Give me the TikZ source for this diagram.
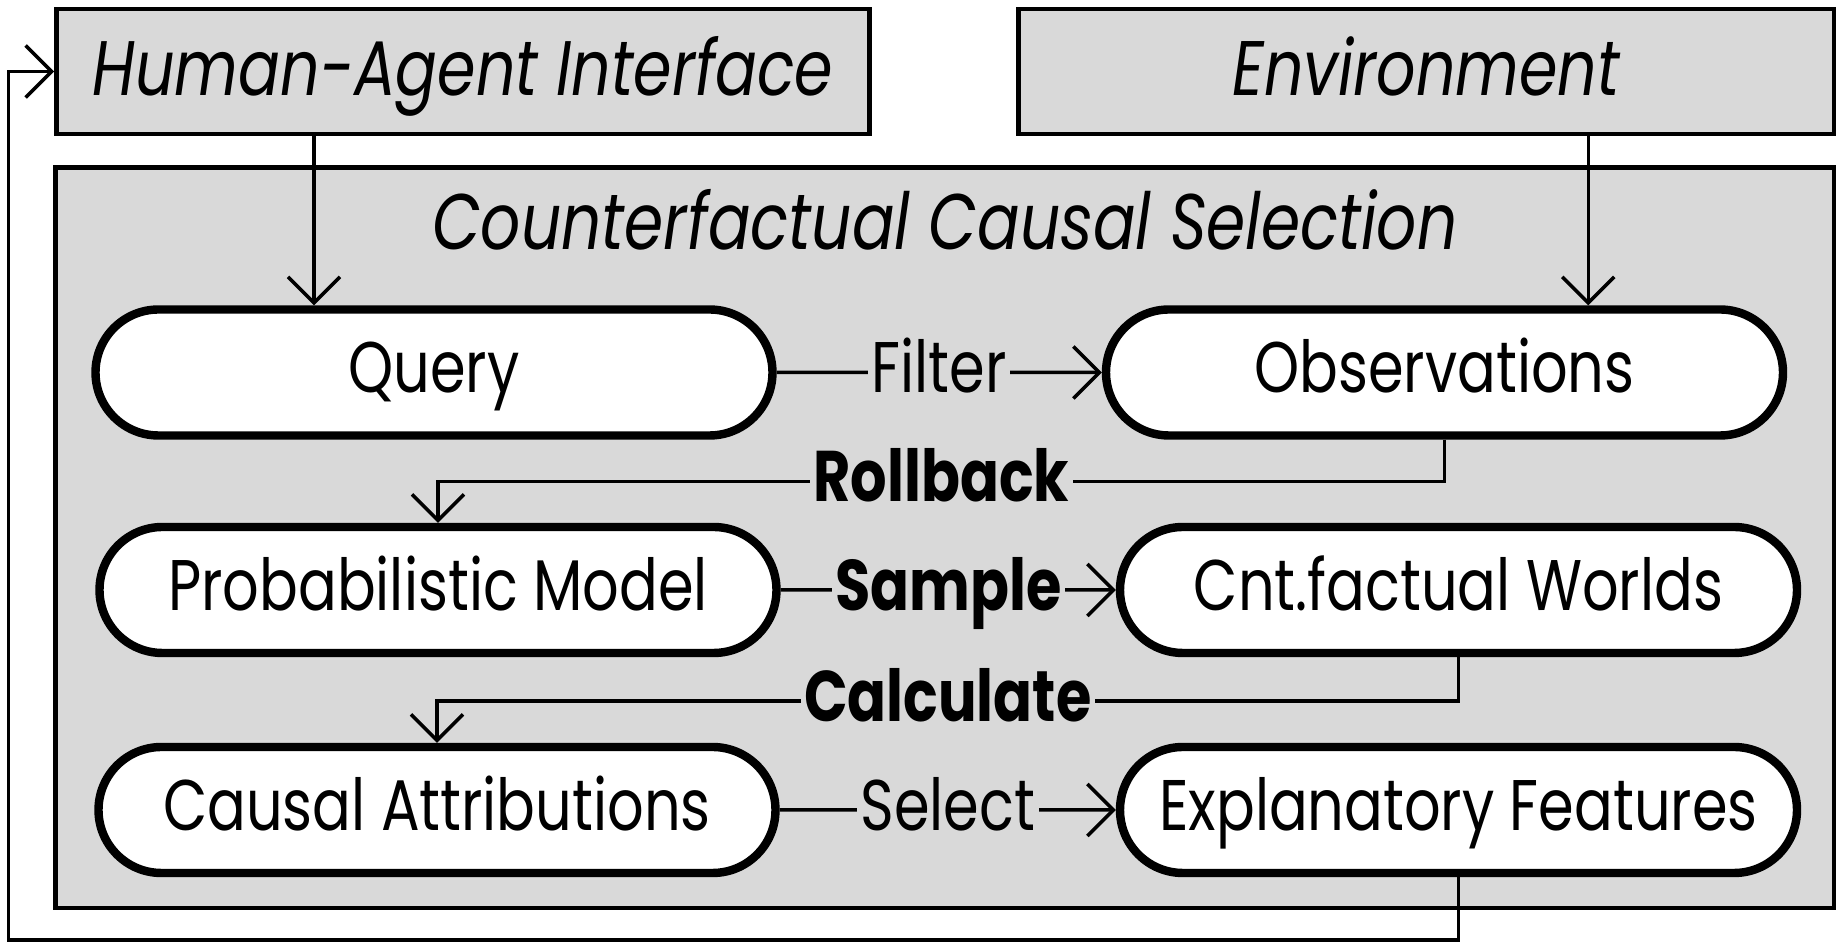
\documentclass[tikz,border=0pt]{standalone}
\usepackage{fontspec}
\setmainfont{Poppins}[FakeStretch=0.8]
\usepackage{xcolor}
\usepackage{tikz}
\usetikzlibrary{arrows.meta, positioning, shapes.misc}
\definecolor{panelgray}{RGB}{217,217,217}

\begin{document}
\begin{tikzpicture}[
            x=0.1mm, y=-0.1mm,
            every node/.style={font=\fontsize{20.4}{24}\selectfont, text height=11.4pt, text depth=0pt},
            graybox/.style={draw, fill=panelgray, line width=1.4pt, inner sep=0pt},
            headbox/.style={graybox, minimum height=12.5mm, text height=13.7pt, font=\fontsize{22}{26}\selectfont\itshape},
            stage/.style={draw, fill=white, rounded rectangle, line width=2.4pt, minimum width=67.7mm, minimum height=12.6mm, inner sep=0pt},
            lbl/.style={fill=panelgray, inner sep=1pt},
            >={Straight Barb[length=2.6mm, width=5.2mm]}, line width=1pt,
        ]
        \useasboundingbox (0,0) rectangle (1842,947);

        \node (ccs) at (944.75,537.75) [graybox, minimum width=177.85mm, minimum height=74.05mm] {};
        \node (title) at (945,250) [anchor=base, font=\fontsize{22.4}{26}\selectfont\itshape] {Counterfactual Causal Selection};

        \node (hai) at (463,71.5) [headbox, minimum width=81.3mm] {Human-Agent Interface};
        \node (env) at (1426.25,71.5) [headbox, minimum width=81.55mm] {Environment};

        \node (query) at (434,372.5) [stage] {Query};
        \node (obs) at (1444.5,372.5) [stage] {Observations};

        \node (prob) at (438,590) [stage] {Probabilistic Model};
        \node (cnt) at (1458.5,590) [stage] {Cnt.factual Worlds};

        \node (ca) at (437,810) [stage] {Causal Attributions};
        \node (ef) at (1458.5,810) [stage] {Explanatory Features};

        \coordinate (back) at (8.5,940);

        \draw[->] ([xshift=-14.9mm]hai.south) -- ([xshift=-14.9mm]hai.south |- query.north);
        \draw[->] ([xshift=16.2mm]env.south) -- ([xshift=16.2mm]env.south |- obs.north);

        \draw[->] (query) -- node[lbl] {Filter} (obs);
        \draw[->] (obs.south) -- ++(0,42) -| node[lbl, pos=0.25] {\textbf{Rollback}} (prob.north);
        \draw[->] (prob) -- node[lbl] {\textbf{Sample}} (cnt);
        \draw[->] (cnt.south) -- ++(0,44) -| node[lbl, pos=0.25] {\textbf{Calculate}} (ca.north);
        \draw[->] (ca) -- node[lbl] {Select} (ef);

        \draw[->] (ef.south) |- (back) |- (hai.west);

        \end{tikzpicture}
\end{document}
